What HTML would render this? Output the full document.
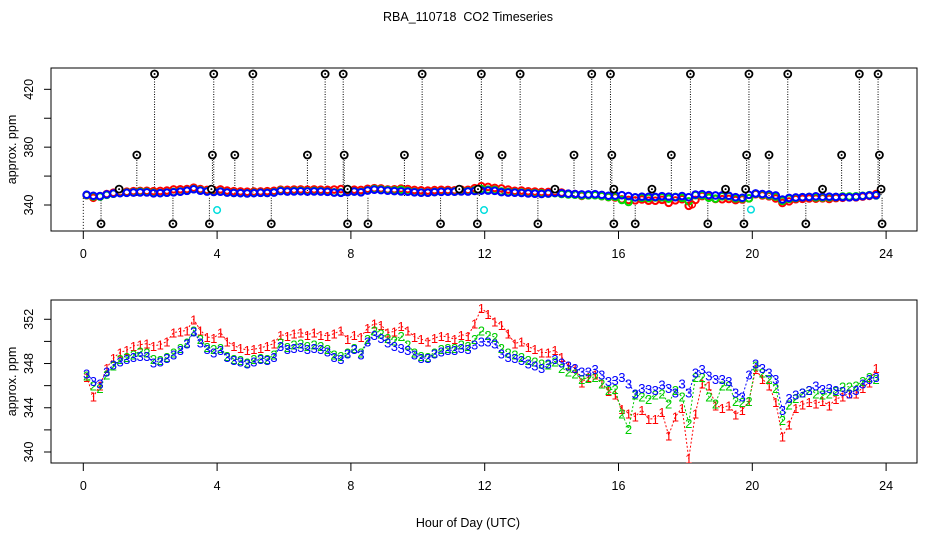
<!DOCTYPE html>
<html><head><meta charset="utf-8"><style>
body{margin:0;background:#fff}
svg{display:block;font-family:"Liberation Sans",sans-serif}
</style></head><body>
<svg id="chart" width="936" height="540" viewBox="0 0 936 540">
<rect x="0" y="0" width="936" height="540" fill="#fff"/>
<text x="468" y="21" font-size="12.5" text-anchor="middle" style="white-space:pre">RBA_110718  CO2 Timeseries</text>
<text x="468" y="527" font-size="12.5" text-anchor="middle">Hour of Day (UTC)</text>
<g id="topPanel"></g>
<g id="botPanel"></g>
</svg>
<script>
const hours = [0.1,0.3,0.5,0.7,0.9,1.1,1.3,1.5,1.7,1.9,2.1,2.3,2.5,2.7,2.9,3.1,3.3,3.5,3.7,3.9,4.1,4.3,4.5,4.7,4.9,5.1,5.3,5.5,5.7,5.9,6.1,6.3,6.5,6.7,6.9,7.1,7.3,7.5,7.7,7.9,8.1,8.3,8.5,8.7,8.9,9.1,9.3,9.5,9.7,9.9,10.1,10.3,10.5,10.7,10.9,11.1,11.3,11.5,11.7,11.9,12.1,12.3,12.5,12.7,12.9,13.1,13.3,13.5,13.7,13.9,14.1,14.3,14.5,14.7,14.9,15.1,15.3,15.5,15.7,15.9,16.1,16.3,16.5,16.7,16.9,17.1,17.3,17.5,17.7,17.9,18.1,18.3,18.5,18.7,18.9,19.1,19.3,19.5,19.7,19.9,20.1,20.3,20.5,20.7,20.9,21.1,21.3,21.5,21.7,21.9,22.1,22.3,22.5,22.7,22.9,23.1,23.3,23.5,23.7];
const s1 = [346.8,345.0,346.0,347.6,348.5,349.0,349.2,349.6,349.7,349.8,349.6,349.7,350.0,350.8,350.9,351.0,352.0,351.0,350.4,350.3,350.8,350.0,349.6,349.4,349.2,349.3,349.4,349.6,349.8,350.6,350.5,350.7,350.8,350.6,350.8,350.6,350.5,350.7,351.0,350.2,350.6,350.4,351.2,351.6,351.5,350.8,350.9,351.4,351.0,350.4,350.2,350.0,350.3,350.5,350.4,350.2,350.6,350.5,351.6,353.0,352.5,351.8,351.5,350.7,349.8,350.0,349.5,349.3,349.0,349.0,349.2,348.6,347.8,347.6,346.3,346.8,347.0,346.2,345.5,345.2,343.9,343.5,343.2,343.8,343.0,343.0,343.6,341.5,343.2,344.0,339.4,343.5,346.2,346.0,344.2,344.0,344.2,343.4,343.8,344.6,347.5,346.6,346.0,344.5,341.4,342.5,344.0,344.3,344.5,344.4,344.6,344.2,344.8,345.0,345.3,345.3,345.8,346.3,347.6];
const s2 = [346.9,346.0,345.8,347.0,347.8,348.4,348.6,348.8,349.1,349.0,348.4,348.3,348.6,349.0,349.4,349.9,351.0,350.2,349.5,349.3,349.4,348.7,348.4,348.3,348.1,348.4,348.5,348.4,348.8,349.9,349.5,349.7,349.8,349.6,349.7,349.6,349.3,348.8,348.7,349.0,349.4,349.0,350.2,351.0,350.7,350.3,350.1,350.5,349.7,349.0,348.7,348.6,349.0,349.3,349.4,349.4,349.7,349.6,350.2,351.0,350.6,350.4,349.4,349.0,348.8,348.6,348.3,348.2,348.0,347.9,348.2,347.6,347.3,347.1,346.6,346.7,346.8,346.2,345.6,345.7,343.5,342.1,345.2,345.0,344.8,345.2,345.3,344.4,345.6,345.0,342.6,346.8,346.8,345.0,344.4,346.0,346.0,344.6,344.5,344.6,347.8,347.2,346.6,345.8,342.9,344.3,344.9,345.4,345.6,345.3,345.2,345.3,345.5,345.9,345.9,346.0,346.4,346.8,346.6];
const s3 = [347.1,346.4,346.2,347.3,347.9,348.2,348.4,348.6,348.7,348.7,348.1,348.2,348.5,348.8,349.2,349.8,350.9,349.9,349.3,349.0,349.2,348.6,348.3,348.2,348.0,348.2,348.4,348.3,348.6,349.6,349.3,349.4,349.5,349.3,349.4,349.3,349.1,348.6,348.4,348.9,349.3,348.8,350.0,350.6,350.3,349.9,349.6,349.4,349.2,348.8,348.5,348.5,348.9,349.1,349.2,349.2,349.4,349.3,349.7,350.0,350.0,349.8,348.9,348.6,348.5,348.3,348.0,347.8,347.6,348.0,348.4,348.1,347.8,347.6,347.3,347.3,347.5,347.0,346.4,346.5,346.8,346.2,345.3,345.8,345.7,345.6,346.1,345.8,345.4,346.2,345.4,347.2,347.5,346.9,346.6,346.6,346.4,345.4,345.0,347.0,348.0,347.6,347.2,346.6,343.8,344.9,345.2,345.4,345.6,346.0,345.7,345.8,345.6,345.5,345.3,345.6,346.2,346.6,346.8];
const outHours = [2.13,3.9,5.07,7.23,7.77,10.13,11.9,13.06,15.2,15.76,18.15,19.9,21.06,23.2,23.76, 1.6,3.86,4.53,6.7,7.8,9.6,11.84,12.52,14.67,15.8,17.58,19.83,20.5,22.67,23.8, 0.53,2.68,3.77,5.62,7.9,8.51,10.68,11.78,13.59,15.86,16.5,18.67,19.75,21.6,23.88, 1.07,3.83,7.9,11.24,11.8,14.1,15.86,17.0,19.2,19.8,22.1,23.85];
const outValues = [430.6,430.6,430.6,430.6,430.6,430.6,430.6,430.6,430.6,430.6,430.6,430.6,430.6,430.6,430.6, 374.6,374.6,374.6,374.6,374.6,374.6,374.6,374.6,374.6,374.6,374.6,374.6,374.6,374.6,374.6, 327,327,327,327,327,327,327,327,327,327,327,327,327,327,327, 351,351,351,351,351,351,351,351,351,351,351,351];
const cyanHours = [4.0,11.98,19.96];
const cyanValues = [336.5,336.5,336.8];
const xTicks = [0,4,8,12,16,20,24];
const topYTicks = [340,360,380,400,420];
const topYLabels = ["340","","380","","420"];
const botYTicks = [340,342,344,346,348,350,352];
const botYLabels = ["340","","344","","348","","352"];

const NS = "http://www.w3.org/2000/svg";
function mk(parent, tag, attrs){const e=document.createElementNS(NS,tag);for(const k in attrs)e.setAttribute(k,attrs[k]);parent.appendChild(e);return e;}
const xS = h => 83.3 + 33.45*h;
const yT = v => 205 - (v-340)*1.446;
const yB = v => 452 - (v-340)*11.06;

function axes(g, y0, y1, yS, yt, yl, name){
  const box = mk(g,'rect',{x:51,y:y0,width:866,height:y1-y0,fill:'none',stroke:'#000','stroke-width':1});
  
  
  xTicks.forEach(t=>{
    const l=mk(g,'line',{x1:xS(t),x2:xS(t),y1:y1,y2:y1+8,stroke:'#000'});
    
    
    const tx=mk(g,'text',{x:xS(t),y:y1+27,'font-size':12.5,'text-anchor':'middle'});
    tx.textContent=t;
    
    
  });
  yt.forEach((t,i)=>{
    const y=yS(t);
    const l=mk(g,'line',{x1:44,x2:51,y1:y,y2:y,stroke:'#000'});
    
    
    if(yl[i]){
      const tx=mk(g,'text',{x:0,y:0,'font-size':12.5,'text-anchor':'middle',transform:`translate(33,${y}) rotate(-90)`});
      tx.textContent=yl[i];
      
      
    }
  });
  const yl2=mk(g,'text',{x:0,y:0,'font-size':12.5,'text-anchor':'middle',transform:`translate(16,${(y0+y1)/2}) rotate(-90)`});
  yl2.textContent='approx. ppm';
  
  
}

const topG=document.getElementById('topPanel'), botG=document.getElementById('botPanel');
axes(topG,68,231,yT,topYTicks,topYLabels,'top');
axes(botG,300,463,yB,botYTicks,botYLabels,'bottom');

const clipT = mk(topG,'clipPath',{id:'ct'}); mk(clipT,'rect',{x:51,y:68,width:866,height:163});
const gT = mk(topG,'g',{'clip-path':'url(#ct)'});
const sl=mk(gT,'line',{x1:xS(0),x2:xS(0),y1:yT(347),y2:231,stroke:'#000','stroke-dasharray':'1,2'});


outHours.forEach((h,i)=>{
  const l=mk(gT,'line',{x1:xS(h),x2:xS(h),y1:yT(outValues[i]),y2:yT(346),stroke:'#000','stroke-dasharray':'1,1.5'});
  
  
});
[[s1,'#ff0000','series-1'],[s2,'#00dd00','series-2'],[s3,'#0000ff','series-3']].forEach(([s,c,n])=>{
  s.forEach((v,i)=>{
    const ci=mk(gT,'circle',{cx:xS(hours[i]),cy:yT(v),r:3.3,fill:'none',stroke:c,'stroke-width':2});
    
    
  });
});
const rc=mk(gT,'circle',{cx:xS(18.2),cy:yT(340.3),r:3.3,fill:'none',stroke:'#ff0000','stroke-width':1.5});


cyanHours.forEach((h,i)=>{
  const ci=mk(gT,'circle',{cx:xS(h),cy:yT(cyanValues[i]),r:3.3,fill:'none',stroke:'#00dddd','stroke-width':1.5});
  
  
});
outHours.forEach((h,i)=>{
  const ci=mk(gT,'circle',{cx:xS(h),cy:yT(outValues[i]),r:3.5,fill:'#fff',stroke:'#000','stroke-width':1.8});
  
  
  const d=mk(gT,'circle',{cx:xS(h),cy:yT(outValues[i]),r:1,fill:'#000'});
  
  
});

const clipB = mk(botG,'clipPath',{id:'cb'}); mk(clipB,'rect',{x:51,y:300,width:866,height:163});
const gB = mk(botG,'g',{'clip-path':'url(#cb)'});
[[s1,'#ff0000','1','series-1'],[s2,'#00cc00','2','series-2'],[s3,'#0000ff','3','series-3']].forEach(([s,c,ch,n])=>{
  const pts=s.map((v,i)=>xS(hours[i])+','+yB(v)).join(' ');
  const pl=mk(gB,'polyline',{points:pts,fill:'none',stroke:c,'stroke-width':1,'stroke-dasharray':'2,2'});
  
  
  s.forEach((v,i)=>{
    const t=mk(gB,'text',{x:xS(hours[i]),y:yB(v)+5,'font-size':13,'text-anchor':'middle',fill:c});
    t.textContent=ch;
    
    
  });
});
</script>
</body></html>
